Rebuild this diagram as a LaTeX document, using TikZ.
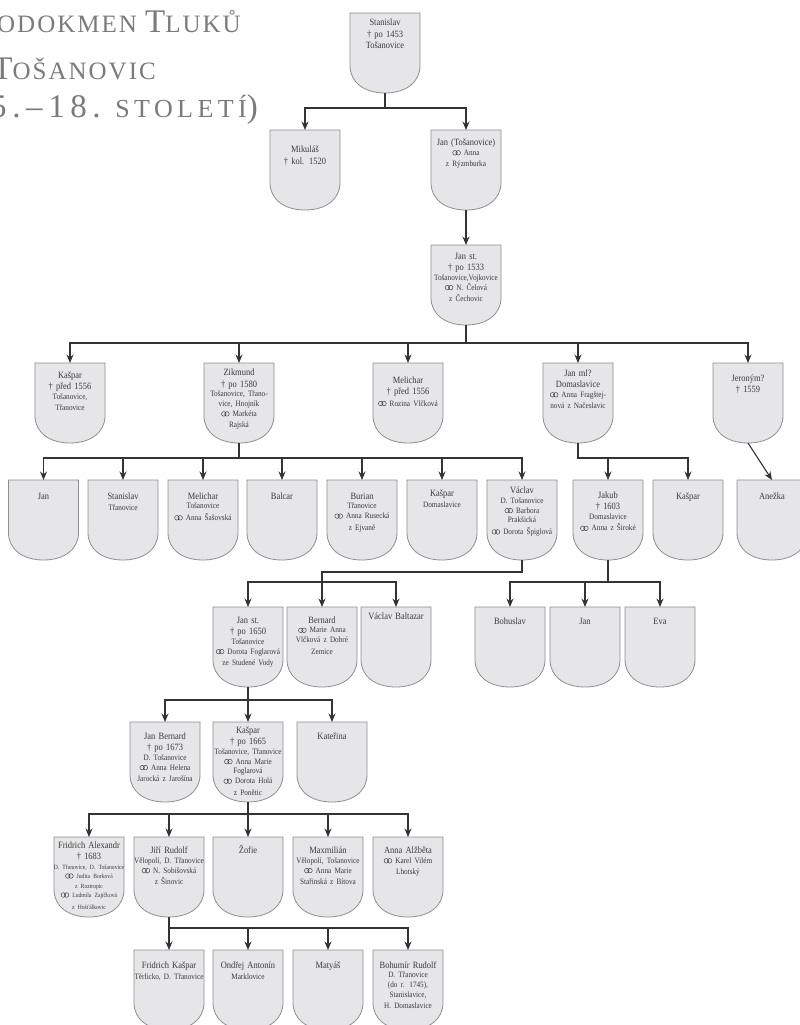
\documentclass[tikz,border=0pt]{standalone}
\usepackage{fontspec}
\setmainfont{Liberation Serif}[FakeStretch=0.88]
\newfontfamily\titlefont{Liberation Serif}[LetterSpace=8]
\usetikzlibrary{arrows.meta}
\definecolor{ink}{HTML}{3A3A3A}
\definecolor{line}{HTML}{8E8E8E}
\definecolor{shieldfill}{HTML}{E6E6E8}
\definecolor{titlegrey}{HTML}{7A7A7A}
\definecolor{link}{HTML}{333333}

\newcommand\nm{\fontsize{9.6}{11.5}\selectfont}
\newcommand\detl{\fontsize{8.2}{9.8}\selectfont}
\newcommand\detlt{\fontsize{6.4}{9.5}\selectfont}
% marriage sign: two linked rings
\newcommand\marr{\tikz[baseline=0pt]{\draw[line width=0.45pt] (0pt,2.5pt) circle[radius=2.3pt] (3.2pt,2.5pt) circle[radius=2.3pt];}\ }
\newcommand\initial[1]{{\fontsize{33}{33}\selectfont#1}}

% shield: flat top, straight sides, rounded bottom; text sits at the top
\makeatletter
\pgfdeclareshape{shield}{
  \savedanchor\northeast{%
    \pgfmathsetlength\pgf@xa{\pgfshapeminwidth}%
    \pgfmathsetlength\pgf@ya{\pgfshapeinnerysep}%
    \pgf@x=.5\wd\pgfnodeparttextbox
    \advance\pgf@x by .5\pgf@xa
    \pgf@y=\ht\pgfnodeparttextbox
    \advance\pgf@y by \pgf@ya
  }
  \savedanchor\southwest{%
    \pgfmathsetlength\pgf@xa{\pgfshapeminwidth}%
    \pgfmathsetlength\pgf@ya{\pgfshapeinnerysep}%
    \pgfmathsetlength\pgf@yb{\pgfshapeminheight}%
    \pgf@x=.5\wd\pgfnodeparttextbox
    \advance\pgf@x by -.5\pgf@xa
    \pgf@y=\ht\pgfnodeparttextbox
    \advance\pgf@y by \pgf@ya
    \advance\pgf@y by -\pgf@yb
  }
  \inheritanchorborder[from=rectangle]
  \inheritanchor[from=rectangle]{center}
  \inheritanchor[from=rectangle]{north}
  \inheritanchor[from=rectangle]{south}
  \inheritanchor[from=rectangle]{east}
  \inheritanchor[from=rectangle]{west}
  \backgroundpath{
    \southwest \pgf@xa=\pgf@x \pgf@ya=\pgf@y
    \northeast \pgf@xb=\pgf@x \pgf@yb=\pgf@y
    \edef\sh@l{\the\pgf@xa}\edef\sh@r{\the\pgf@xb}%
    \edef\sh@b{\the\pgf@ya}\edef\sh@t{\the\pgf@yb}%
    \pgf@xc=.5\pgf@xa \advance\pgf@xc by .5\pgf@xb
    \edef\sh@m{\the\pgf@xc}%
    \pgf@yc=\pgf@yb \advance\pgf@yc by -\pgf@ya
    \pgf@yc=.34\pgf@yc
    \pgfutil@tempdimb=.6\pgf@yc
    \advance\pgf@yc by \pgf@ya \edef\sh@c{\the\pgf@yc}%
    \advance\pgf@yc by -\pgfutil@tempdimb \edef\sh@cc{\the\pgf@yc}%
    \pgfutil@tempdima=\pgf@xb \advance\pgfutil@tempdima by -\pgf@xc
    \pgfutil@tempdima=.6\pgfutil@tempdima
    \pgf@x=\pgf@xc \advance\pgf@x by \pgfutil@tempdima \edef\sh@rr{\the\pgf@x}%
    \pgf@x=\pgf@xc \advance\pgf@x by -\pgfutil@tempdima \edef\sh@ll{\the\pgf@x}%
    \pgfpathmoveto{\pgfqpoint{\sh@l}{\sh@t}}
    \pgfpathlineto{\pgfqpoint{\sh@r}{\sh@t}}
    \pgfpathlineto{\pgfqpoint{\sh@r}{\sh@c}}
    \pgfpathcurveto{\pgfqpoint{\sh@r}{\sh@cc}}{\pgfqpoint{\sh@rr}{\sh@b}}{\pgfqpoint{\sh@m}{\sh@b}}
    \pgfpathcurveto{\pgfqpoint{\sh@ll}{\sh@b}}{\pgfqpoint{\sh@l}{\sh@cc}}{\pgfqpoint{\sh@l}{\sh@c}}
    \pgfpathclose
  }
}
\makeatother

\begin{document}
\begin{tikzpicture}[
  x=1pt, y=-1pt,
  person/.style={shape=shield,draw=line,fill=shieldfill,line width=0.8pt,
                 minimum width=70pt,minimum height=80pt,text width=72pt,text height=7.5pt,
                 inner ysep=9pt,align=center,font=\nm,text=ink,anchor=north},
  arrow/.style={-{Stealth[length=8.5pt,width=7pt]},line width=1.1pt,draw=link},
  tie/.style={line width=1.1pt,draw=link},
  heading/.style={font=\titlefont\fontsize{25}{25}\selectfont,text=titlegrey,
                  anchor=base east,inner sep=0pt}
]
\useasboundingbox (0,0) rectangle (800,1025);

% Title (runs off the left edge)
\node[heading] (head1) at (241,33) {\initial{R}ODOKMEN \initial{T}LUKŮ};
\node[heading] (head2) at (156,79) {Z \initial{T}OŠANOVIC};
\node[heading,font=\titlefont\addfontfeature{LetterSpace=17}\fontsize{26}{26}\selectfont]
  (head3) at (258,117) {\initial{(15.–18.} STOLETÍ\initial{)}};

% Generations 1--3
\node[person,inner ysep=5.5pt] (stan) at (385,13) {Stanislav\\† po 1453\\Tošanovice};
\node[person,inner ysep=15pt] (mik) at (305,130) {Mikuláš\\† kol. 1520};
\node[person,inner ysep=8pt] (jantos) at (466,130) {Jan (Tošanovice)\\\detl\marr Anna\\z Rýzmburka};
\node[person,inner ysep=6.5pt] (jans) at (466,245)
  {Jan st.\\† po 1533\\\detl Tošanovice,Vojkovice\\\marr N. Čelová\\z Čechovic};

% Generation 4
\node[person,inner ysep=7.5pt] (kas) at (70,363) {Kašpar\\† před 1556\\\detl Tošanovice,\\Třanovice};
\node[person,inner ysep=5pt] (zik) at (239,363)
  {Zikmund\\† po 1580\\\detl Tošanovice, Třano-\\vice, Hnojník\\\marr Markéta\\Rajská};
\node[person,inner ysep=12.5pt] (mel) at (408,363) {Melichar\\† před 1556\\\detl\marr Rozina Vlčková};
\node[person,inner ysep=5.5pt] (janml) at (578,363)
  {Jan ml?\\Domaslavice\\\detl\marr Anna Fragštej-\\nová z Načeslavic};
\node[person,inner ysep=10.5pt] (jer) at (748,363) {Jeroným?\\† 1559};

% Generation 5
\node[person,inner ysep=11.5pt] (jan5) at (43.5,480) {Jan};
\node[person,inner ysep=11.5pt] (stan5) at (123,480) {Stanislav\\\detl Třanovice};
\node[person,inner ysep=11.5pt] (mel5) at (203,480) {Melichar\\\detl Tošanovice\\\marr Anna Šašovská};
\node[person,inner ysep=11.5pt] (balc) at (282,480) {Balcar};
\node[person,inner ysep=11.5pt] (bur) at (362,480) {Burian\\\detl Třanovice\\\marr Anna Rusecká\\z Ejvaně};
\node[person,inner ysep=8.5pt] (kas5) at (442,480) {Kašpar\\\detl Domaslavice};
\node[person,inner ysep=6pt] (vac) at (522,480)
  {Václav\\\detl D. Tošanovice\\\marr Barbora\\Prakšická\\\marr Dorota Špiglová};
\node[person,inner ysep=10.5pt] (jak) at (608,480) {Jakub\\† 1603\\\detl Domaslavice\\\marr Anna z Široké};
\node[person,inner ysep=11.5pt] (kas6) at (688,480) {Kašpar};
\node[person,inner ysep=11.5pt] (anez) at (772,480) {Anežka};

% Generation 6
\node[person,inner ysep=8.5pt] (jans6) at (248,607)
  {Jan st.\\† po 1650\\\detl Tošanovice\\\marr Dorota Foglarová\\ze Studené Vody};
\node[person,inner ysep=8.5pt] (bern) at (322,607) {Bernard\\\detl\marr Marie Anna\\Vlčková z Dobré\\Zemice};
\node[person,inner ysep=4.5pt] (vacb) at (396,607) {Václav Baltazar};
\node[person,inner ysep=10pt] (bohu) at (510,607) {Bohuslav};
\node[person,inner ysep=10pt] (jan6) at (585,607) {Jan};
\node[person,inner ysep=10pt] (eva) at (660,607) {Eva};

% Generation 7
\node[person,inner ysep=9.5pt] (janb) at (165,722)
  {Jan Bernard\\† po 1673\\\detl D. Tošanovice\\\marr Anna Helena\\Jarocká z Jarošína};
\node[person,inner ysep=3.5pt] (kas7) at (248,722)
  {Kašpar\\† po 1665\\\detl Tošanovice, Třanovice\\\marr Anna Marie\\Foglarová\\\marr Dorota Holá\\z Ponětic};
\node[person,inner ysep=9.5pt] (kat) at (332,722) {Kateřina};

% Generation 8
\node[person,inner ysep=3.5pt] (fra) at (89,837)
  {Fridrich Alexandr\\† 1683\\\detlt D. Třanovice, D. Tošanovice\\\marr Judita Borková\\z Roztropic\\\marr Ludmila Zajíčková\\z Hošťálkovic};
\node[person] (jir) at (169,837) {Jiří Rudolf\\\detl Vělopolí, D. Třanovice\\\marr N. Sobišovská\\z Šinovic};
\node[person] (zof) at (248,837) {Žofie};
\node[person] (max) at (328,837) {Maxmilián\\\detl Vělopolí, Tošanovice\\\marr Anna Marie\\Stařinská z Bítova};
\node[person] (anna) at (408,837) {Anna Alžběta\\\detl\marr Karel Vilém\\Lhotský};

% Generation 9
\node[person,inner ysep=10.5pt] (frk) at (169,950) {Fridrich Kašpar\\\detl Těrlicko, D. Třanovice};
\node[person,inner ysep=10.5pt] (ond) at (248,950) {Ondřej Antonín\\\detl Marklovice};
\node[person,inner ysep=10.5pt] (mat) at (328,950) {Matyáš};
\node[person,inner ysep=10.5pt] (boh) at (408,950)
  {Bohumír Rudolf\\\detl D. Třanovice\\(do r. 1745),\\Stanislavice,\\H. Domaslavice};

% Descent lines
\foreach \kid in {mik,jantos} \draw[arrow] (stan.south) -- ++(0,15) -| (\kid.north);
\draw[arrow] (jantos.south) -- (jans.north);
\foreach \kid in {kas,zik,mel,janml,jer} \draw[arrow] (jans.south) -- ++(0,18) -| (\kid.north);
\foreach \kid in {jan5,stan5,mel5,balc,bur,kas5,vac} \draw[arrow] (zik.south) -- ++(0,15) -| (\kid.north);
\foreach \kid in {jak,kas6} \draw[arrow] (janml.south) -- ++(0,15) -| (\kid.north);
\draw[arrow] (jer.south) -- (anez.north);
\coordinate (vacfork) at (322,582);
\draw[tie] (vac.south) -- ++(0,12) -| (vacfork);
\foreach \kid in {jans6,bern,vacb} \draw[arrow] (vacfork) -| (\kid.north);
\foreach \kid in {bohu,jan6,eva} \draw[arrow] (jak.south) -- ++(0,22) -| (\kid.north);
\foreach \kid in {janb,kas7,kat} \draw[arrow] (jans6.south) -- ++(0,13) -| (\kid.north);
\foreach \kid in {fra,jir,zof,max,anna} \draw[arrow] (kas7.south) -- ++(0,12) -| (\kid.north);
\foreach \kid in {frk,ond,mat,boh} \draw[arrow] (jir.south) -- ++(0,11) -| (\kid.north);

\end{tikzpicture}
\end{document}
